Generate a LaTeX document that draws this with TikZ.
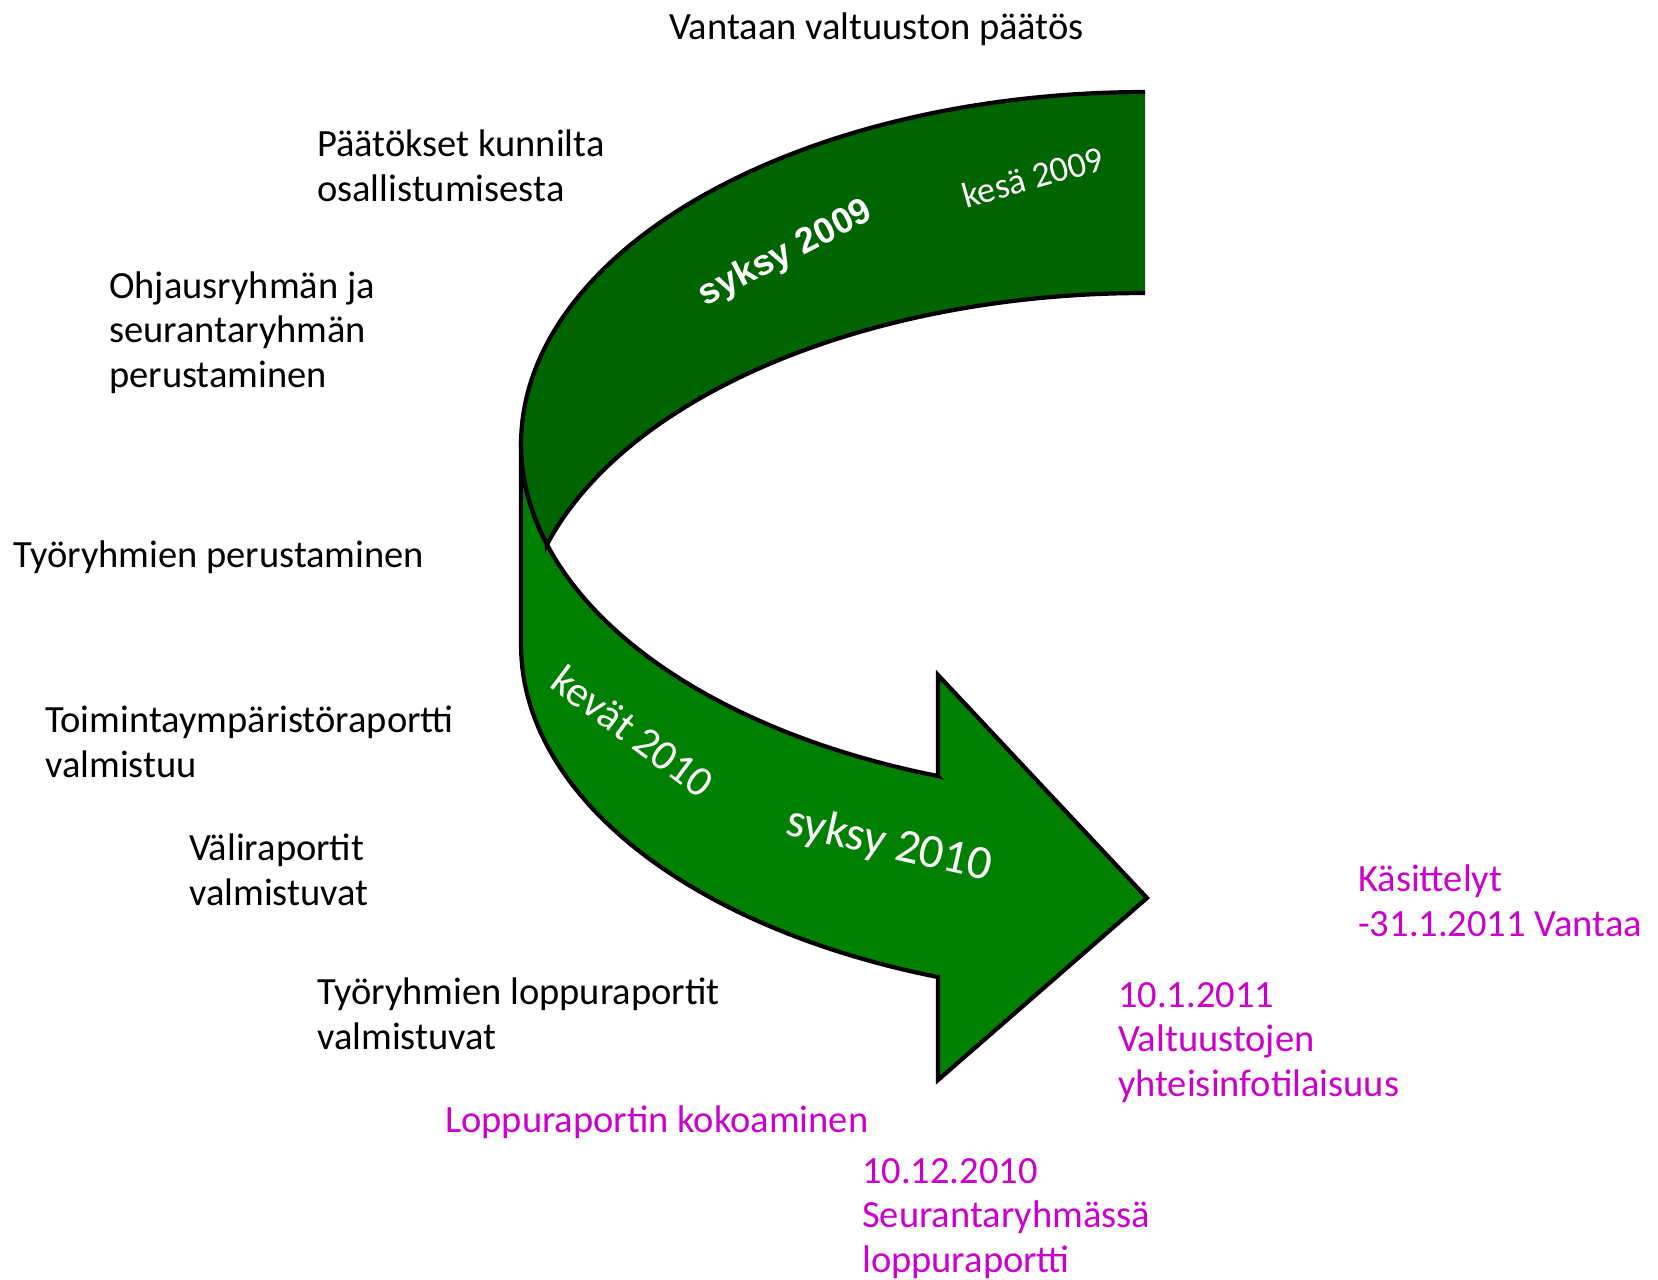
\documentclass[tikz,border=0pt]{standalone}
\usepackage{fontspec}
\setmainfont{Carlito}
\newfontfamily\arialfont{Liberation Sans}
\definecolor{darkband}{RGB}{0,100,0}
\definecolor{lightband}{RGB}{0,128,0}
\definecolor{mag}{RGB}{204,0,204}
\begin{document}
\begin{tikzpicture}[x=1pt,y=-1pt,
  lbl/.style={anchor=base west,inner sep=0pt,align=left,font=\fontsize{38.5}{44.4}\selectfont},
  maglbl/.style={lbl,text=mag},
  outline/.style={draw=black,line width=4.2pt,line join=miter},
  bandtxt/.style={text=white,inner sep=0pt}]
\useasboundingbox (0,0) rectangle (1658,1280);
% lower (light) band with arrow head
\path[outline,fill=lightband] (521,444) -- (521,645)
  -- plot[domain=180:250.63,samples=60] ({1145+624*cos(\x)},{645-352*sin(\x)})
  -- (938,1080) -- (1147,898) -- (938,675) -- (938,776)
  -- plot[domain=250.63:180,samples=60] ({1145+624*cos(\x)},{444-352*sin(\x)}) -- cycle;
% upper (dark) band
\fill[darkband] (1145,92)
  -- plot[domain=90:196.59,samples=80] ({1145+624*cos(\x)},{444-352*sin(\x)})
  -- plot[domain=163.41:90,samples=60] ({1145+624*cos(\x)},{645-352*sin(\x)}) -- cycle;
\draw[outline] (1145,92)
  -- plot[domain=90:196.59,samples=80] ({1145+624*cos(\x)},{444-352*sin(\x)})
  -- plot[domain=163.41:90,samples=60] ({1145+624*cos(\x)},{645-352*sin(\x)});
% band labels
\node[bandtxt,rotate=27.5,font=\arialfont\bfseries\fontsize{36}{40}\selectfont] (s09) at (786,254) {syksy 2009};
\node[bandtxt,rotate=15.8,font=\fontsize{36}{40}\selectfont] (k09) at (1033,177) {kesä 2009};
\node[bandtxt,rotate=-36.7,font=\fontsize{43}{48}\selectfont] (k10) at (633,731) {kevät 2010};
\node[bandtxt,rotate=-12.7,font=\fontsize{48}{54}\selectfont] (s10) at (889,845) {syksy 2010};
% black labels
\node[lbl] (t1) at (669,39) {Vantaan valtuuston päätös};
\node[lbl] (t2) at (317,201) {Päätökset kunnilta\\osallistumisesta};
\node[lbl] (t3) at (109,387) {Ohjausryhmän ja\\seurantaryhmän\\perustaminen};
\node[lbl] (t4) at (13,567) {Työryhmien perustaminen};
\node[lbl] (t5) at (45,777) {Toimintaympäristöraportti\\valmistuu};
\node[lbl] (t6) at (189,905) {Väliraportit\\valmistuvat};
\node[lbl] (t7) at (317,1049) {Työryhmien loppuraportit\\valmistuvat};
% magenta labels
\node[maglbl] (m1) at (445,1132) {Loppuraportin kokoaminen};
\node[maglbl] (m2) at (862,1272) {10.12.2010\\Seurantaryhmässä\\loppuraportti};
\node[maglbl] (m3) at (1118,1096) {10.1.2011\\Valtuustojen\\yhteisinfotilaisuus};
\node[maglbl] (m4) at (1358,936) {Käsittelyt\\-31.1.2011 Vantaa};
\end{tikzpicture}
\end{document}
